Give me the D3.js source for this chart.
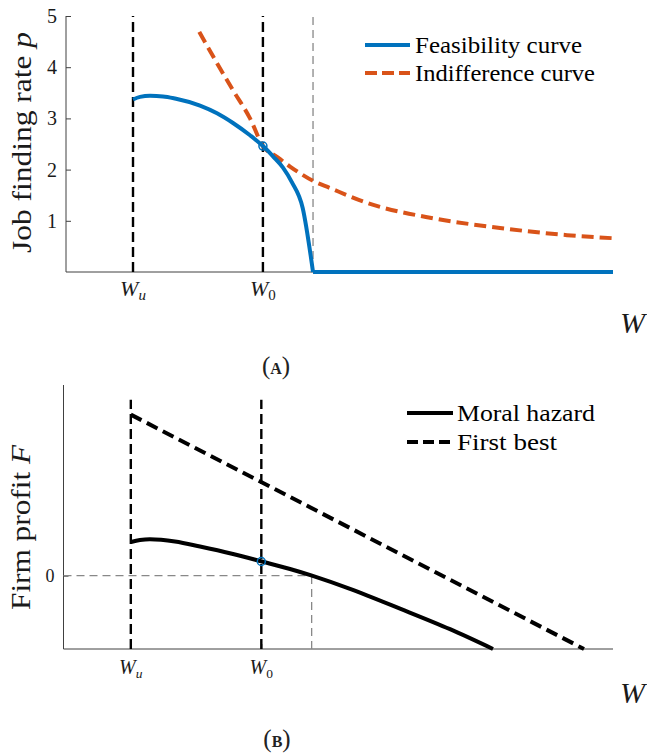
<!DOCTYPE html>
<html><head><meta charset="utf-8">
<script src="https://cdn.jsdelivr.net/npm/d3@7"></script>
<style>html,body{margin:0;padding:0;background:#fff}</style>
</head><body>
<script>
// ---- Data ----
const W_u = 0.1225, W_0 = 0.36, W_bar = 0.4516;
// Panel A: feasibility curve (smooth part, ending where p hits 0)
const feasW = [0.1225,0.1353,0.1536,0.1773,0.1993,0.245,0.2761,0.3053,0.3364,0.3601,0.3784,0.3967,0.4126,0.4327,0.4516];
const feasP = [3.37,3.42,3.44,3.43,3.39,3.25,3.10,2.91,2.67,2.46,2.26,2.04,1.76,1.25,0];
// Panel A: feasibility curve flat at zero beyond W_bar
const feasFlatW = [0.4516,1.0];
const feasFlatP = [0,0];
// Panel A: indifference curve
const indW = [0.2437,0.276,0.3053,0.3364,0.3601,0.3857,0.4095,0.4278,0.4516,0.4826,0.5503,0.6709,0.7934,0.9159,1.0];
const indP = [4.69,4.08,3.55,3.00,2.46,2.25,2.06,1.93,1.78,1.64,1.35,1.05,0.86,0.72,0.66];
// Panel B: moral hazard profit
const mhW = [0.1228,0.1392,0.1574,0.2029,0.2484,0.3085,0.3612,0.4122,0.4522,0.5214,0.6124,0.7034,0.7816];
const mhF = [0.459,0.486,0.497,0.466,0.398,0.296,0.193,0.091,0,-0.18,-0.45,-0.73,-1.0];
// Panel B: first best profit
const fbW = [0.1225,0.9472];
const fbF = [2.196,-1.0];
const pTicks = [1,2,3,4,5];
const fTicks = [0];
const xTicks = [{v:W_u, sub:"u"},{v:W_0, sub:"0"}];
const legendA = ["Feasibility curve","Indifference curve"];
const legendB = ["Moral hazard","First best"];

const blue = "#0072BD", orange = "#D95319", axisCol = "#404040", txtCol = "#1a1a1a";
const serif = "Liberation Serif";

const svg = d3.select("body").append("svg").attr("width",647).attr("height",755)
  .attr("font-family", serif);

// ---------- Panel A ----------
const xA = d3.scaleLinear().domain([0,1]).range([66,613]);
const yA = d3.scaleLinear().domain([0,5]).range([272,16]);
const gA = svg.append("g");

gA.append("g").attr("transform","translate(0,272)")
  .call(d3.axisBottom(xA).tickValues(xTicks.map(d=>d.v)).tickSize(-5).tickFormat(""))
  .call(g=>{g.select(".domain").attr("stroke",axisCol).attr("d","M66,0H613");g.selectAll(".tick line").attr("stroke",axisCol);});
gA.append("g").attr("transform","translate(66,0)")
  .call(d3.axisLeft(yA).tickValues(pTicks).tickSize(-5).tickPadding(9).tickFormat(d3.format("d")))
  .call(g=>{g.attr("font-family",serif).attr("font-size",20);
    g.select(".domain").attr("stroke",axisCol).attr("d","M0,16V272");
    g.selectAll(".tick line").attr("stroke",axisCol);
    g.selectAll(".tick text").attr("fill",txtCol);});

[W_u, W_0].forEach(w=>{
  gA.append("line").attr("x1",xA(w)).attr("x2",xA(w)).attr("y1",yA(0)).attr("y2",yA(5))
    .attr("stroke","#000").attr("stroke-width",2.4).attr("stroke-dasharray","10,5");
});
gA.append("line").attr("x1",xA(W_bar)).attr("x2",xA(W_bar)).attr("y1",yA(0)).attr("y2",yA(5))
  .attr("stroke","#888").attr("stroke-width",1.3).attr("stroke-dasharray","8,5");

gA.append("path").datum(indW.map((w,i)=>[w,indP[i]]))
  .attr("d",d3.line().x(d=>xA(d[0])).y(d=>yA(d[1])).curve(d3.curveMonotoneX)).attr("fill","none")
  .attr("stroke",orange).attr("stroke-width",4).attr("stroke-dasharray","12,6");
gA.append("path").datum(feasW.map((w,i)=>[w,feasP[i]]))
  .attr("d",d3.line().x(d=>xA(d[0])).y(d=>yA(d[1])).curve(d3.curveMonotoneX)).attr("fill","none")
  .attr("stroke",blue).attr("stroke-width",4);
gA.append("path").datum(feasFlatW.map((w,i)=>[w,feasFlatP[i]]))
  .attr("d",d3.line().x(d=>xA(d[0])).y(d=>yA(d[1]))).attr("fill","none")
  .attr("stroke",blue).attr("stroke-width",4);
gA.append("circle").attr("cx",xA(W_0)).attr("cy",yA(2.46)).attr("r",4)
  .attr("fill","none").attr("stroke",blue).attr("stroke-width",1.5);

xTicks.forEach(t=>{
  const tx = gA.append("text").attr("x",xA(t.v)).attr("y",296).attr("text-anchor","middle")
    .attr("font-size",22).attr("fill",txtCol);
  tx.append("tspan").attr("font-style","italic").text("W");
  tx.append("tspan").attr("font-size",15).attr("dy",4).attr("font-style",t.sub==="u"?"italic":"normal").text(t.sub);
});
gA.append("text").attr("transform","translate(31,142.5) rotate(-90)").attr("text-anchor","middle")
  .attr("font-size",28).attr("fill",txtCol).attr("textLength",221).attr("lengthAdjust","spacingAndGlyphs")
  .call(t=>{t.append("tspan").text("Job finding rate "); t.append("tspan").attr("font-style","italic").text("p");});
gA.append("text").attr("x",645).attr("y",333).attr("text-anchor","end").attr("font-size",30)
  .attr("font-style","italic").attr("fill",txtCol).text("W");
const legA = [{c:blue,dash:null,w:167},{c:orange,dash:"12,5",w:180}];
legendA.forEach((s,i)=>{
  const y = 45 + i*28;
  gA.append("line").attr("x1",365).attr("x2",410).attr("y1",y).attr("y2",y)
    .attr("stroke",legA[i].c).attr("stroke-width",4).attr("stroke-dasharray",legA[i].dash);
  gA.append("text").attr("x",415).attr("y",y+8).attr("font-size",23).attr("fill","#000")
    .attr("textLength",legA[i].w).attr("lengthAdjust","spacingAndGlyphs").text(s);
});
svg.append("text").attr("x",276).attr("y",374).attr("text-anchor","middle").attr("font-size",25).attr("fill","#222")
  .call(t=>{t.append("tspan").text("(");t.append("tspan").attr("font-size",16).attr("font-weight","bold").text("A");t.append("tspan").text(")");});

// ---------- Panel B ----------
const xB = d3.scaleLinear().domain([0,1]).range([63.5,613]);
const yB = d3.scaleLinear().domain([-1,2.6]).range([649,385]);
const gB = svg.append("g");

gB.append("g").attr("transform","translate(0,649)")
  .call(d3.axisBottom(xB).tickValues(xTicks.map(d=>d.v)).tickSize(-5).tickFormat(""))
  .call(g=>{g.select(".domain").attr("stroke",axisCol).attr("d","M63.5,0H613");g.selectAll(".tick line").attr("stroke",axisCol);});
gB.append("g").attr("transform","translate(63.5,0)")
  .call(d3.axisLeft(yB).tickValues(fTicks).tickSize(-5).tickPadding(9).tickFormat(d3.format("d")))
  .call(g=>{g.attr("font-family",serif).attr("font-size",18);
    g.select(".domain").attr("stroke",axisCol).attr("d","M0,385V649");
    g.selectAll(".tick line").attr("stroke",axisCol);
    g.selectAll(".tick text").attr("fill",txtCol);});

gB.append("line").attr("x1",xB(0)).attr("x2",xB(W_bar)).attr("y1",yB(0)).attr("y2",yB(0))
  .attr("stroke","#888").attr("stroke-width",1.3).attr("stroke-dasharray","8,5");
gB.append("line").attr("x1",xB(W_bar)).attr("x2",xB(W_bar)).attr("y1",yB(-1)).attr("y2",yB(0))
  .attr("stroke","#888").attr("stroke-width",1.3).attr("stroke-dasharray","8,5");
[W_u, W_0].forEach(w=>{
  gB.append("line").attr("x1",xB(w)).attr("x2",xB(w)).attr("y1",yB(-1)).attr("y2",yB(2.4))
    .attr("stroke","#000").attr("stroke-width",2.4).attr("stroke-dasharray","10,5");
});

gB.append("path").datum(fbW.map((w,i)=>[w,fbF[i]]))
  .attr("d",d3.line().x(d=>xB(d[0])).y(d=>yB(d[1]))).attr("fill","none")
  .attr("stroke","#000").attr("stroke-width",4).attr("stroke-dasharray","12,6");
gB.append("path").datum(mhW.map((w,i)=>[w,mhF[i]]))
  .attr("d",d3.line().x(d=>xB(d[0])).y(d=>yB(d[1])).curve(d3.curveCatmullRom.alpha(0.5))).attr("fill","none")
  .attr("stroke","#000").attr("stroke-width",4);
gB.append("circle").attr("cx",xB(W_0)).attr("cy",yB(0.193)).attr("r",4)
  .attr("fill","none").attr("stroke",blue).attr("stroke-width",1.5);

xTicks.forEach(t=>{
  const tx = gB.append("text").attr("x",xB(t.v)).attr("y",674).attr("text-anchor","middle")
    .attr("font-size",20).attr("fill",txtCol);
  tx.append("tspan").attr("font-style","italic").text("W");
  tx.append("tspan").attr("font-size",13.5).attr("dy",4).attr("font-style",t.sub==="u"?"italic":"normal").text(t.sub);
});
gB.append("text").attr("transform","translate(30,527.5) rotate(-90)").attr("text-anchor","middle")
  .attr("font-size",27).attr("fill",txtCol).attr("textLength",165).attr("lengthAdjust","spacingAndGlyphs")
  .call(t=>{t.append("tspan").text("Firm profit "); t.append("tspan").attr("font-style","italic").text("F");});
gB.append("text").attr("x",645).attr("y",703).attr("text-anchor","end").attr("font-size",30)
  .attr("font-style","italic").attr("fill",txtCol).text("W");
const legB = [{dash:null,w:138},{dash:"11,5",w:100}];
legendB.forEach((s,i)=>{
  const y = 413 + i*29;
  gB.append("line").attr("x1",407).attr("x2",453).attr("y1",y).attr("y2",y)
    .attr("stroke","#000").attr("stroke-width",4).attr("stroke-dasharray",legB[i].dash);
  gB.append("text").attr("x",457).attr("y",y+8).attr("font-size",23).attr("fill","#000")
    .attr("textLength",legB[i].w).attr("lengthAdjust","spacingAndGlyphs").text(s);
});
svg.append("text").attr("x",277).attr("y",747).attr("text-anchor","middle").attr("font-size",25).attr("fill","#222")
  .call(t=>{t.append("tspan").text("(");t.append("tspan").attr("font-size",16).attr("font-weight","bold").text("B");t.append("tspan").text(")");});
</script>
</body></html>
